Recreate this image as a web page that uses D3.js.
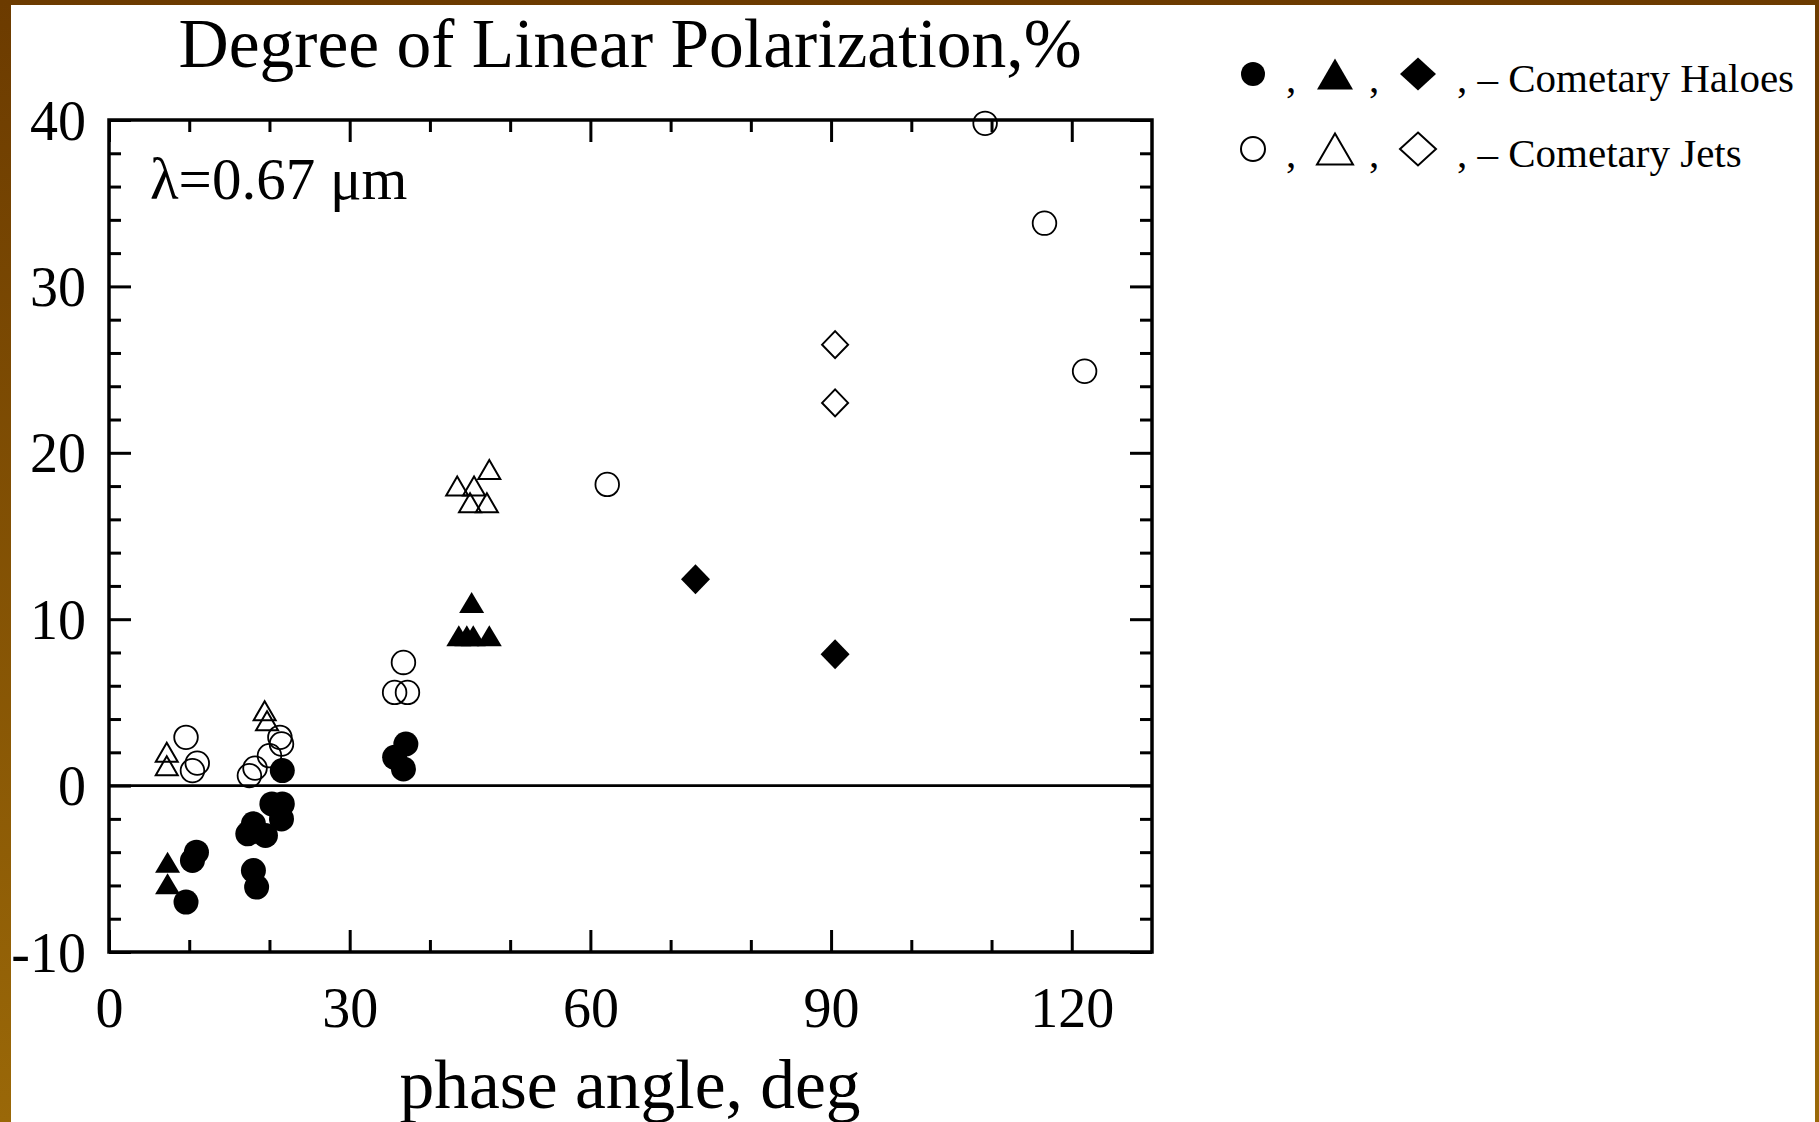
<!DOCTYPE html>
<html>
<head>
<meta charset="utf-8">
<script src="https://cdn.jsdelivr.net/npm/d3@7"></script>
<style>
  body { margin: 0; background: #fff; }
  svg { display: block; }
  text { font-family: "Liberation Serif", "Times New Roman", serif; fill: #000; }
</style>
</head>
<body>
<svg id="chart" width="1819" height="1122"></svg>
<script>
// data: [phase angle deg, polarization %]
const haloCircles = [[9.6,-7.0],[10.4,-4.5],[10.9,-4.0],[17.3,-2.9],[18.0,-2.3],[19.5,-3.0],[20.3,-1.1],[21.6,-1.1],[21.5,-2.0],[18.0,-5.1],[18.4,-6.1],[21.6,0.9],[35.6,1.7],[37.0,2.5],[36.7,1.0]];
const haloTriangles = [[7.3,-4.6],[7.3,-5.9],[45.2,11.0],[43.6,9.0],[44.6,9.0],[45.4,9.0],[47.4,9.0]];
const haloDiamonds = [[73.1,12.4],[90.5,7.9]];
const jetCircles = [[9.6,2.9],[11.0,1.35],[10.4,0.9],[17.5,0.6],[18.2,1.05],[20.0,1.8],[21.3,2.9],[21.5,2.5],[36.7,7.4],[35.6,5.6],[37.2,5.6],[62.1,18.1],[109.2,39.8],[116.6,33.8],[121.6,24.9]];
const jetTriangles = [[7.2,2.0],[7.2,1.2],[19.4,4.5],[19.7,3.9],[43.4,18.0],[45.5,18.0],[47.4,19.0],[45.0,17.0],[47.1,17.0]];
const jetDiamonds = [[90.5,26.5],[90.5,23.0]];

const xMajor = [0, 30, 60, 90, 120];
const xMinor = [10, 20, 40, 50, 70, 80, 100, 110];
const yMajor = [-10, 0, 10, 20, 30, 40];
const yMinor = d3.range(-8, 40, 2).filter(v => v % 10 !== 0);

const W = 1819, H = 1122;
const plotLeft = 109, plotRight = 1152, plotTop = 120, plotBottom = 952;

const svg = d3.select("#chart");

// brown slide background with white page
const grad = svg.append("defs").append("linearGradient")
  .attr("id", "bg").attr("x1", 0).attr("y1", 0).attr("x2", 0).attr("y2", 1);
grad.append("stop").attr("offset", "0%").attr("stop-color", "#6c3b00");
grad.append("stop").attr("offset", "100%").attr("stop-color", "#9a6808");
svg.append("rect").attr("width", W).attr("height", H).attr("fill", "url(#bg)");
svg.append("rect").attr("x", 11).attr("y", 5).attr("width", W - 15).attr("height", H - 5).attr("fill", "#fff");

const x = d3.scaleLinear().domain([0, 130]).range([plotLeft, plotRight]);
const y = d3.scaleLinear().domain([-10, 40]).range([plotBottom, plotTop]);

const fmt = d => d3.format("d")(d).replace("−", "-");

// axes, ticks pointing inward
function addAxis(gen, tx, ty, labels) {
  const g = svg.append("g").attr("transform", `translate(${tx},${ty})`).call(gen);
  g.select(".domain").remove();
  g.selectAll(".tick line").attr("stroke", "#000").attr("stroke-width", 3);
  g.selectAll(".tick text").attr("font-size", labels ? 56 : 0)
    .attr("font-family", "Liberation Serif").attr("fill", "#000");
  return g;
}
addAxis(d3.axisBottom(x).tickValues(xMajor).tickSize(-22).tickPadding(35).tickFormat(fmt), 0, plotBottom, true);
addAxis(d3.axisBottom(x).tickValues(xMinor).tickSize(-12).tickFormat(""), 0, plotBottom, false);
addAxis(d3.axisTop(x).tickValues(xMajor).tickSize(-22).tickFormat(""), 0, plotTop, false);
addAxis(d3.axisTop(x).tickValues(xMinor).tickSize(-12).tickFormat(""), 0, plotTop, false);
addAxis(d3.axisLeft(y).tickValues(yMajor).tickSize(-22).tickPadding(23).tickFormat(fmt), plotLeft, 0, true)
  .selectAll(".tick text").attr("dy", "0.34em");
addAxis(d3.axisLeft(y).tickValues(yMinor).tickSize(-12).tickFormat(""), plotLeft, 0, false);
addAxis(d3.axisRight(y).tickValues(yMajor).tickSize(-22).tickFormat(""), plotRight, 0, false);
addAxis(d3.axisRight(y).tickValues(yMinor).tickSize(-12).tickFormat(""), plotRight, 0, false);

// frame and zero line
svg.append("rect").attr("x", plotLeft).attr("y", plotTop)
  .attr("width", plotRight - plotLeft).attr("height", plotBottom - plotTop)
  .attr("fill", "none").attr("stroke", "#000").attr("stroke-width", 3.5);
svg.append("line").attr("x1", x(0)).attr("x2", x(130)).attr("y1", y(0)).attr("y2", y(0))
  .attr("stroke", "#000").attr("stroke-width", 2.6);

// marker shapes, centred on their bounding box
function triPath(w, h) {
  return `M0,${-h / 2}L${w / 2},${h / 2}L${-w / 2},${h / 2}Z`;
}
function diaPath(w, h) {
  return `M0,${-h / 2}L${w / 2},0L0,${h / 2}L${-w / 2},0Z`;
}

function plotCircles(data, filled) {
  svg.append("g").selectAll("circle").data(data).join("circle")
    .attr("cx", d => x(d[0])).attr("cy", d => y(d[1])).attr("r", filled ? 12.5 : 11.8)
    .attr("fill", filled ? "#000" : "none")
    .attr("stroke", "#000").attr("stroke-width", filled ? 0 : 1.8);
}
function plotPaths(data, path, filled) {
  svg.append("g").selectAll("path").data(data).join("path")
    .attr("transform", d => `translate(${x(d[0])},${y(d[1])})`)
    .attr("d", path)
    .attr("fill", filled ? "#000" : "none")
    .attr("stroke", "#000").attr("stroke-width", filled ? 0 : 2)
    .attr("stroke-linejoin", "miter");
}

plotCircles(jetCircles, false);
plotPaths(jetTriangles, triPath(22, 19), false);
plotPaths(jetDiamonds, diaPath(26, 27), false);
plotCircles(haloCircles, true);
plotPaths(haloTriangles, triPath(25, 21), true);
plotPaths(haloDiamonds, diaPath(29, 30), true);

// titles
svg.append("text").attr("x", 630).attr("y", 67).attr("text-anchor", "middle")
  .attr("font-size", 69.5).text("Degree of Linear Polarization,%");
svg.append("text").attr("x", 630).attr("y", 1108).attr("text-anchor", "middle")
  .attr("font-size", 69.5).text("phase angle, deg");
svg.append("text").attr("x", 150).attr("y", 199)
  .attr("font-size", 59).text("λ=0.67 μm");

// legend
const legendRows = [
  { label: ", – Cometary Haloes", filled: true, cy: 74, base: 92 },
  { label: ", – Cometary Jets", filled: false, cy: 149, base: 167 }
];
legendRows.forEach(r => {
  const g = svg.append("g");
  const fill = r.filled ? "#000" : "none";
  const sw = r.filled ? 0 : 2;
  g.append("circle").attr("cx", 1253).attr("cy", r.cy).attr("r", 12)
    .attr("fill", fill).attr("stroke", "#000").attr("stroke-width", sw);
  g.append("path").attr("transform", `translate(1335,${r.cy})`).attr("d", triPath(36, 31))
    .attr("fill", fill).attr("stroke", "#000").attr("stroke-width", sw);
  g.append("path").attr("transform", `translate(1418,${r.cy})`).attr("d", diaPath(36, 33))
    .attr("fill", fill).attr("stroke", "#000").attr("stroke-width", sw);
  g.append("text").attr("x", 1286).attr("y", r.base).attr("font-size", 41).text(",");
  g.append("text").attr("x", 1369).attr("y", r.base).attr("font-size", 41).text(",");
  g.append("text").attr("x", 1457).attr("y", r.base).attr("font-size", 41).text(r.label);
});
</script>
</body>
</html>
